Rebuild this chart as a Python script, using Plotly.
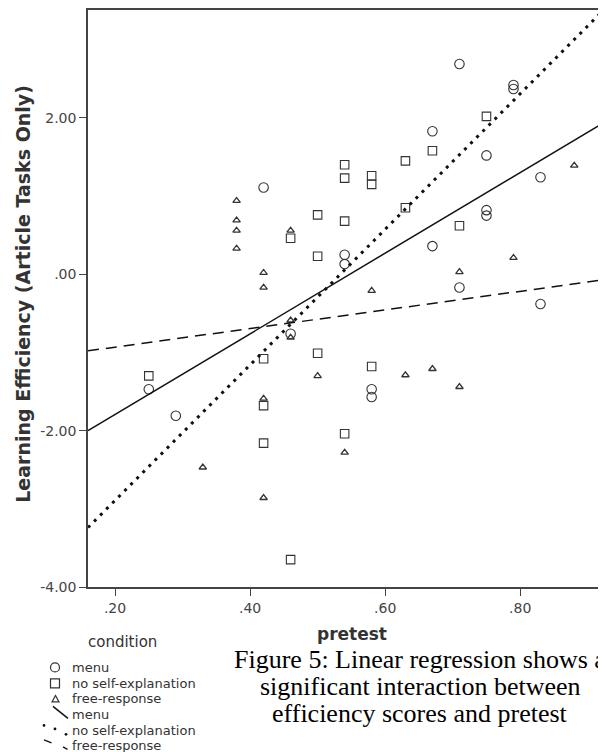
import numpy as np
import plotly.graph_objects as go

# ---------------- data ----------------
menu_x = [0.25, 0.29, 0.42, 0.46, 0.54, 0.54, 0.58, 0.58, 0.67, 0.67, 0.71, 0.71,
          0.75, 0.75, 0.75, 0.79, 0.79, 0.83, 0.83]
menu_y = [-1.47, -1.81, 1.11, -0.76, 0.25, 0.13, -1.47, -1.57, 1.83, 0.36, 2.69, -0.17,
          1.52, 0.82, 0.75, 2.42, 2.37, 1.24, -0.38]

noself_x = [0.25, 0.42, 0.42, 0.42, 0.46, 0.46, 0.50, 0.50, 0.50, 0.54, 0.54, 0.54, 0.54,
            0.58, 0.58, 0.58, 0.63, 0.63, 0.67, 0.71, 0.75]
noself_y = [-1.30, -1.08, -1.68, -2.16, 0.46, -3.65, 0.76, 0.23, -1.01, 1.40, 1.23, 0.68, -2.04,
            1.26, 1.15, -1.18, 1.45, 0.85, 1.58, 0.62, 2.02]

free_x = [0.33, 0.38, 0.38, 0.38, 0.38, 0.42, 0.42, 0.42, 0.42, 0.46, 0.46, 0.46, 0.50,
          0.54, 0.58, 0.63, 0.67, 0.71, 0.71, 0.79, 0.88]
free_y = [-2.47, 0.94, 0.69, 0.56, 0.33, 0.02, -0.17, -1.59, -2.86, 0.56, -0.59, -0.81, -1.30,
          -2.28, -0.21, -1.29, -1.21, 0.03, -1.44, 0.21, 1.39]

# regression fits (intercept, slope) per condition
fit_intercept = {"menu": -2.826, "no self-explanation": -4.627, "free-response": -1.170}
fit_slope = {"menu": 5.16, "no self-explanation": 8.67, "free-response": 1.19}

x_range = [0.16, 0.927]
y_range = [-4.0, 3.38]
x_ticks = [0.2, 0.4, 0.6, 0.8]
x_ticktext = [".20", ".40", ".60", ".80"]
y_ticks = [2, 0, -2, -4]
y_ticktext = ["2.00", ".00", "-2.00", "-4.00"]

legend_labels = ["menu", "no self-explanation", "free-response"]

# ---------------- layout geometry ----------------
OFF = 8                      # page body margin offset
W, H = 606 - OFF, 752 - OFF
ML, MR, MT, MB = 88 - OFF, 0, 10 - OFF, 164.5
PW = W - ML - MR
PH = H - MT - MB


def px(xp):
    """page-pixel x -> paper coordinate"""
    return (xp - OFF - ML) / PW


def py(yp):
    """page-pixel y -> paper coordinate"""
    return (H - MB - (yp - OFF)) / PH


INK = "#333333"
AX = "#444444"

fig = go.Figure()

marker_line = dict(color=INK, width=1.1)
fig.add_trace(go.Scatter(x=menu_x, y=menu_y, mode="markers", name="menu",
                         marker=dict(symbol="circle-open", size=9.5, color=INK, line=marker_line)))
fig.add_trace(go.Scatter(x=noself_x, y=noself_y, mode="markers", name="no self-explanation",
                         marker=dict(symbol="square-open", size=8.5, color=INK, line=marker_line)))
fig.add_trace(go.Scatter(x=free_x, y=free_y, mode="markers", name="free-response",
                         marker=dict(symbol="triangle-up-open", size=6.5, color=INK,
                                     line=dict(color=INK, width=1.3))))

fit_x = np.array(x_range)
line_styles = {
    "menu": dict(color="#111111", width=1.5, dash="solid"),
    "no self-explanation": dict(color="#111111", width=3, dash="3px,5.6px"),
    "free-response": dict(color="#111111", width=1.5, dash="11px,7px"),
}
for cond in legend_labels:
    fy = fit_intercept[cond] + fit_slope[cond] * fit_x
    fig.add_trace(go.Scatter(x=fit_x, y=fy, mode="lines", name=cond + " fit",
                             line=line_styles[cond], hoverinfo="skip"))

# ---------------- legend (manual) ----------------
shapes = []
annotations = []
annotations.append(dict(x=px(122), y=py(643), xref="paper", yref="paper", text="condition",
                        showarrow=False, xanchor="center", yanchor="middle",
                        font=dict(family="DejaVu Sans", size=15, color=INK)))
rows = [668, 684, 699.5, 715, 731, 746.5]
entry_labels = legend_labels + legend_labels
for r, lab in zip(rows, entry_labels):
    annotations.append(dict(x=px(70), y=py(r), xref="paper", yref="paper", text=lab,
                            showarrow=False, xanchor="left", yanchor="middle",
                            font=dict(family="DejaVu Sans", size=13, color=INK)))
lw = dict(color=INK, width=1.2)
shapes.append(dict(type="circle", xref="paper", yref="paper", x0=px(50.5), x1=px(59.5),
                   y0=py(rows[0] - 4.5), y1=py(rows[0] + 4.5), line=lw))
shapes.append(dict(type="rect", xref="paper", yref="paper", x0=px(50.5), x1=px(59.5),
                   y0=py(rows[1] - 4.5), y1=py(rows[1] + 4.5), line=lw))
tx, ty = 55.5, rows[2]
shapes.append(dict(type="path", xref="paper", yref="paper",
                   path=f"M {px(tx-3.5)},{py(ty+3)} L {px(tx+3.5)},{py(ty+3)} L {px(tx)},{py(ty-3.5)} Z",
                   line=lw))
shapes.append(dict(type="line", xref="paper", yref="paper", x0=px(53), y0=py(707),
                   x1=px(68), y1=py(719), line=dict(color="#111111", width=1.5)))
for dx, dy in [(44, 726), (55, 729.5), (66, 735)]:
    shapes.append(dict(type="circle", xref="paper", yref="paper", x0=px(dx - 1.4), x1=px(dx + 1.4),
                       y0=py(dy - 1.4), y1=py(dy + 1.4), fillcolor="#111111",
                       line=dict(color="#111111", width=0)))
shapes.append(dict(type="line", xref="paper", yref="paper", x0=px(44), y0=py(740.5),
                   x1=px(51.5), y1=py(743.5), line=dict(color="#111111", width=1.3)))
shapes.append(dict(type="line", xref="paper", yref="paper", x0=px(63), y0=py(747.5),
                   x1=px(67.5), y1=py(750), line=dict(color="#111111", width=1.3)))

# ---------------- titles & caption ----------------
annotations.append(dict(x=px(23), y=py(294), xref="paper", yref="paper",
                        text="<b>Learning Efficiency (Article Tasks Only)</b>", textangle=-90,
                        showarrow=False, xanchor="center", yanchor="middle",
                        font=dict(family="DejaVu Sans", size=19, color=INK)))
annotations.append(dict(x=px(352), y=py(635), xref="paper", yref="paper", text="<b>pretest</b>",
                        showarrow=False, xanchor="center", yanchor="middle",
                        font=dict(family="DejaVu Sans", size=17, color=INK)))
caption = ["Figure 5: Linear regression shows a",
           "significant interaction between",
           "efficiency scores and pretest"]
for line, cy in zip(caption, [660, 687, 714]):
    annotations.append(dict(x=px(420), y=py(cy), xref="paper", yref="paper", text=line,
                            showarrow=False, xanchor="center", yanchor="middle",
                            font=dict(family="Liberation Serif", size=26, color="#000000")))

fig.update_layout(
    width=W, height=H,
    margin=dict(l=ML, r=MR, t=MT, b=MB, pad=0),
    paper_bgcolor="white", plot_bgcolor="white",
    showlegend=False,
    shapes=shapes, annotations=annotations,
    xaxis=dict(range=x_range, tickvals=x_ticks, ticktext=x_ticktext, ticks="outside",
               ticklen=7, tickwidth=1.3, tickcolor=AX, showline=True, linecolor=AX,
               linewidth=1.5, mirror=True, showgrid=False, zeroline=False,
               tickfont=dict(family="DejaVu Sans", size=14, color="#444444")),
    yaxis=dict(range=y_range, tickvals=y_ticks, ticktext=y_ticktext, ticks="outside",
               ticklen=7, tickwidth=1.3, tickcolor=AX, showline=True, linecolor=AX,
               linewidth=1.5, mirror=False, showgrid=False, zeroline=False,
               tickfont=dict(family="DejaVu Sans", size=14, color="#444444")),
)

fig.write_html("out.html")
